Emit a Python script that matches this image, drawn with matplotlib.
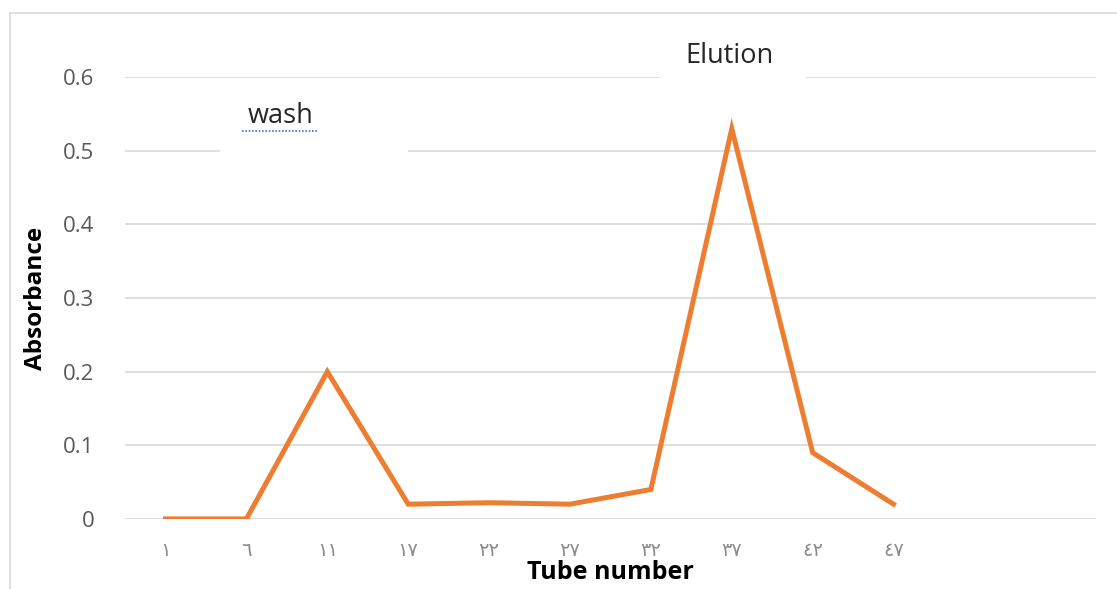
import matplotlib.pyplot as plt
from matplotlib.patches import Rectangle
from matplotlib.lines import Line2D

# tube labels (Arabic-Indic digits), last two slots empty
tube_labels = ['١', '٦', '١١', '١٧', '٢٢', '٢٧', '٣٢', '٣٧', '٤٢', '٤٧', '', '']
absorbance = [0, 0, 0.2, 0.02, 0.022, 0.02, 0.04, 0.53, 0.09, 0.02]
y_ticks = [0, 0.1, 0.2, 0.3, 0.4, 0.5, 0.6]
y_tick_labels = ['0', '0.1', '0.2', '0.3', '0.4', '0.5', '0.6']

fig = plt.figure(figsize=(11.17, 5.89), dpi=100)
ax = fig.add_axes([0.112, 0.119, 0.869, 0.750])

x = list(range(len(tube_labels)))
ax.plot(x[:len(absorbance)], absorbance, color='#ED7D31', linewidth=3.6,
        solid_joinstyle='miter', zorder=5)

ax.set_xlim(-0.5, len(tube_labels) - 0.5)
ax.set_ylim(0, 0.6)
ax.set_yticks(y_ticks)
ax.set_yticklabels(y_tick_labels, fontsize=16, color='#595959', family='Open Sans')
ax.set_xticks(x)
ax.set_xticklabels(tube_labels, fontsize=14, color='#8c8c8c', family='DejaVu Sans')
ax.tick_params(length=0)
ax.tick_params(axis='y', pad=22)
ax.tick_params(axis='x', pad=16)
ax.grid(axis='y', color='#d9d9d9', linewidth=1.2, zorder=0)
ax.set_axisbelow(True)
for s in ax.spines.values():
    s.set_visible(False)

ax.set_ylabel('Absorbance', fontsize=17.5, fontweight='bold', family='Open Sans')
ax.yaxis.set_label_coords(-0.079, 0.5)
ax.set_xlabel('Tube number', fontsize=18, fontweight='bold', family='Open Sans')
ax.xaxis.set_label_coords(0.5, -0.093)

# white boxes behind the annotations (break the gridlines)
ax.add_patch(Rectangle((0.098, 0.80), 0.193, 0.15, transform=ax.transAxes,
                       facecolor='white', edgecolor='none', zorder=2))
ax.add_patch(Rectangle((0.551, 0.96), 0.150, 0.12, transform=ax.transAxes,
                       facecolor='white', edgecolor='none', zorder=2, clip_on=False))
ax.text(0.160, 0.912, 'wash', transform=ax.transAxes, fontsize=19.5, family='Open Sans',
        color='#262626', ha='center', va='center', zorder=3)
ax.text(0.623, 1.047, 'Elution', transform=ax.transAxes, fontsize=19.5, family='Open Sans',
        color='#262626', ha='center', va='center', zorder=3)
# spell-check squiggle under "wash"
ax.add_artist(Line2D([0.120, 0.198], [0.878, 0.878], transform=ax.transAxes,
                     color='#4472C4', linewidth=1.2, linestyle=(0, (1, 1)), zorder=3))

# chart frame
fig.add_artist(Line2D([10 / 1117, 10 / 1117], [0, 1 - 13 / 589], transform=fig.transFigure,
                      color='#d9d9d9', linewidth=1.2))
fig.add_artist(Line2D([10 / 1117, 1], [1 - 13 / 589, 1 - 13 / 589], transform=fig.transFigure,
                      color='#d9d9d9', linewidth=1.2))

fig.savefig('out.png', dpi=100)
